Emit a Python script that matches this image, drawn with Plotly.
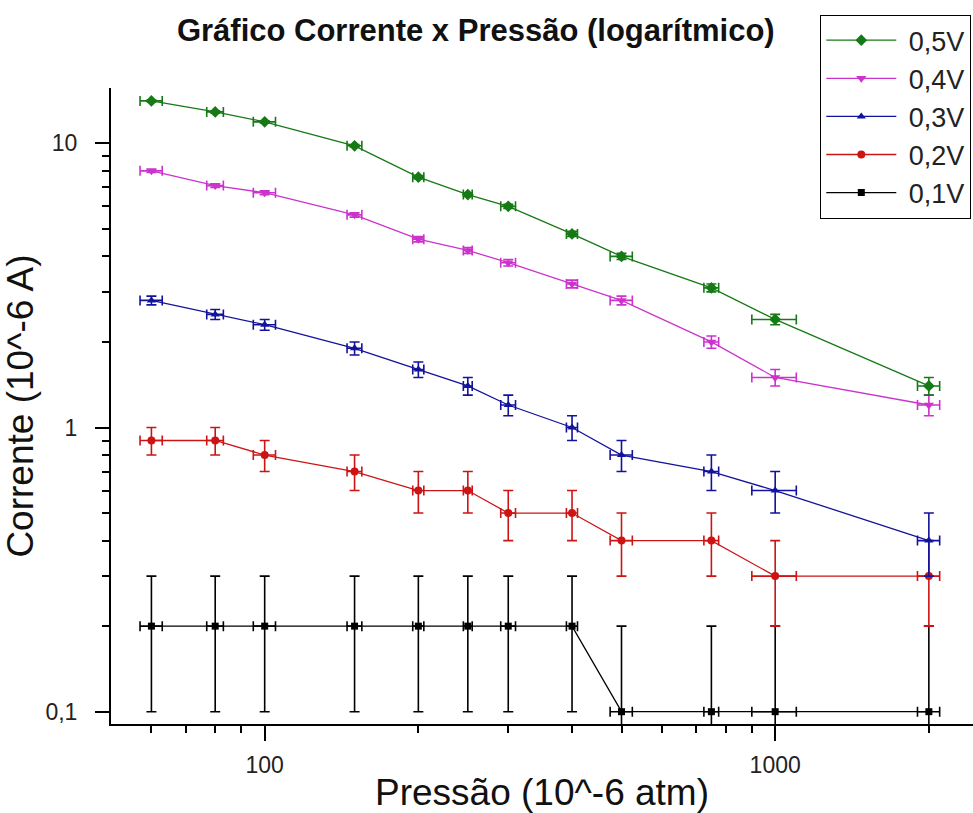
import math
import plotly.graph_objects as go

# ---------------- data ----------------
pressure = [60, 80, 100, 150, 200, 250, 300, 400, 500, 750, 1000, 2000]
pressure_err = [3, 3, 5, 5, 5, 5, 10, 10, 25, 25, 100, 100]

i_01V = [0.2, 0.2, 0.2, 0.2, 0.2, 0.2, 0.2, 0.2, 0.1, 0.1, 0.1, 0.1]
i_02V = [0.9, 0.9, 0.8, 0.7, 0.6, 0.6, 0.5, 0.5, 0.4, 0.4, 0.3, 0.3]
i_03V = [2.8, 2.5, 2.3, 1.9, 1.6, 1.4, 1.2, 1.0, 0.8, 0.7, 0.6, 0.4]
i_04V = [8.0, 7.1, 6.7, 5.6, 4.6, 4.2, 3.8, 3.2, 2.8, 2.0, 1.5, 1.2]
i_05V = [14.1, 12.9, 11.9, 9.8, 7.6, 6.6, 6.0, 4.8, 4.0, 3.1, 2.4, 1.4]
current_err = 0.1

series_names = ["0,1V", "0,2V", "0,3V", "0,4V", "0,5V"]

x_major = [100, 1000]
x_major_text = ["100", "1000"]
x_minor = [60, 70, 80, 90, 200, 300, 400, 500, 600, 700, 800, 900, 2000]
y_major = [0.1, 1, 10]
y_major_text = ["0,1", "1", "10"]
y_minor = [0.2, 0.3, 0.4, 0.5, 0.6, 0.7, 0.8, 0.9, 2, 3, 4, 5, 6, 7, 8, 9]

# ---------------- styles ----------------
styles = [
    dict(color="#000000", symbol="square", size=7),
    dict(color="#CC1414", symbol="circle", size=8),
    dict(color="#12129C", symbol="triangle-up", size=8),
    dict(color="#CC33CC", symbol="triangle-down", size=9),
    dict(color="#157A15", symbol="diamond", size=9),
]
FONT = "Liberation Sans, Arial, sans-serif"

fig = go.Figure()
for name, ys, st in zip(series_names, [i_01V, i_02V, i_03V, i_04V, i_05V], styles):
    fig.add_trace(go.Scatter(
        x=pressure, y=ys, name="\u00a0" + name, mode="lines+markers",
        line=dict(color=st["color"], width=1.3),
        marker=dict(color=st["color"], symbol=st["symbol"], size=st["size"]),
        error_y=dict(type="constant", value=current_err, color=st["color"],
                     thickness=1.6, width=5),
        error_x=dict(type="data", array=pressure_err, color=st["color"],
                     thickness=1.6, width=5),
    ))

x_lo = math.log10(50)
fig.update_layout(
    width=973, height=813,
    margin=dict(l=111, r=0, t=88, b=89, autoexpand=False),
    paper_bgcolor="white", plot_bgcolor="white",
    font=dict(family=FONT, color="#111111"),
    title=dict(text="<b>Gráfico Corrente x Pressão (logarítmico)</b>",
               x=0.489, xanchor="center", y=0.963, yanchor="middle",
               font=dict(size=31, family=FONT, color="#111111")),
    showlegend=True,
    legend=dict(x=0.8225, y=1.115, xanchor="left", yanchor="top",
                traceorder="reversed", bgcolor="white",
                bordercolor="#000000", borderwidth=1.3,
                font=dict(size=27, family=FONT, color="#222222"),
                itemwidth=70, tracegroupgap=0),
)
fig.update_xaxes(
    type="log", range=[x_lo, x_lo + 862 / 510.5],
    showgrid=False, zeroline=False, showline=True, linecolor="#000000", linewidth=2,
    tickmode="array", tickvals=x_major, ticktext=x_major_text,
    ticks="outside", ticklen=15, tickwidth=2, tickcolor="#000000",
    ticklabelstandoff=4,
    tickfont=dict(size=23, family=FONT, color="#222222"),
    minor=dict(tickmode="array", tickvals=x_minor, ticks="outside",
               ticklen=7, tickwidth=2, tickcolor="#000000", showgrid=False),
    title=dict(text="Pressão (10^-6 atm)", standoff=12,
               font=dict(size=37, family=FONT, color="#111111")),
)
fig.update_yaxes(
    type="log", range=[-1.0433, 1.1946],
    showgrid=False, zeroline=False, showline=True, linecolor="#000000", linewidth=2,
    tickmode="array", tickvals=y_major, ticktext=y_major_text,
    ticks="outside", ticklen=14, tickwidth=2, tickcolor="#000000",
    ticklabelstandoff=13,
    tickfont=dict(size=23, family=FONT, color="#222222"),
    minor=dict(tickmode="array", tickvals=y_minor, ticks="outside",
               ticklen=7, tickwidth=2, tickcolor="#000000", showgrid=False),
    title=dict(text="Corrente (10^-6 A)", standoff=10,
               font=dict(size=37, family=FONT, color="#111111")),
)

fig.write_html("out.html")
